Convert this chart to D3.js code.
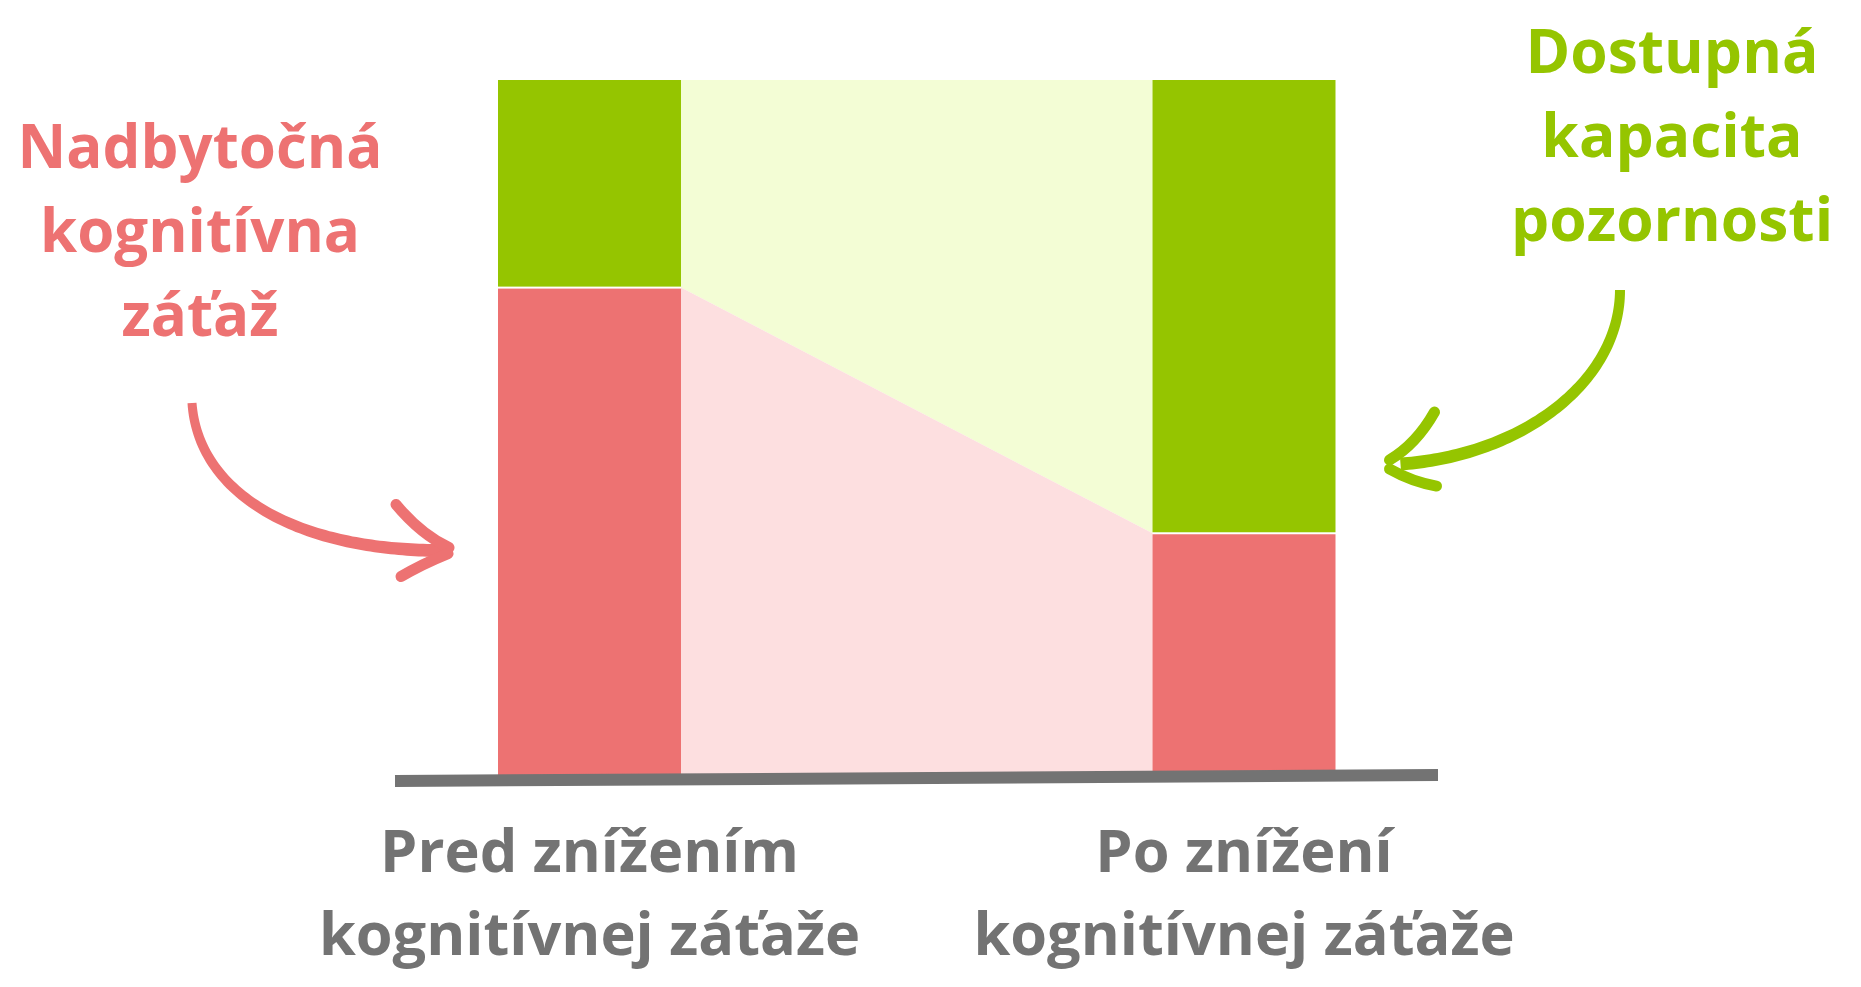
<!DOCTYPE html>
<html><head><meta charset="utf-8">
<script src="https://cdn.jsdelivr.net/npm/d3@7"></script>
<style>
body{margin:0;background:#fff}
svg{display:block}
text{font-family:"Open Sans",sans-serif;font-weight:700}
</style>
</head><body>
<svg id="c" width="1861" height="987"></svg>
<script>
// ---- data ----
const categories = ["before", "after"];
const categoryLabels = [["Pred znížením", "kognitívnej záťaže"], ["Po znížení", "kognitívnej záťaže"]];
const excessLoad = [70, 34.5];        // Nadbytočná kognitívna záťaž (%)
const availableCapacity = [30, 65.5]; // Dostupná kapacita pozornosti (%)
const leftLabel = ["Nadbytočná", "kognitívna", "záťaž"];
const rightLabel = ["Dostupná", "kapacita", "pozornosti"];

// ---- style ----
const RED = "#ED7272", GREEN = "#95C500", PINK = "#FDDFE0", LIME = "#F3FDD5", GREY = "#737373";

const svg = d3.select("#c");
const barW = 183;
const x = d3.scalePoint().domain(categories).range([589.5, 1244]);
const y = d3.scaleLinear().domain([0, 100]).range([772, 80]);

const xl = c => x(c) - barW / 2, xr = c => x(c) + barW / 2;

// connecting bands between the bars
const [c0, c1] = categories;
const band = d3.area().x(d => d.x).y0(d => d.y0).y1(d => d.y1);
svg.append("path")
  .attr("d", band([{x: xr(c0), y0: y(excessLoad[0]), y1: y(100)}, {x: xl(c1), y0: y(excessLoad[1]), y1: y(100)}]))
  .attr("fill", LIME);
svg.append("path")
  .attr("d", band([{x: xr(c0), y0: y(0) + 6, y1: y(excessLoad[0])}, {x: xl(c1), y0: y(0) + 6, y1: y(excessLoad[1])}]))
  .attr("fill", PINK);

// stacked bars
categories.forEach((c, i) => {
  svg.append("rect").attr("x", xl(c)).attr("width", barW)
    .attr("y", y(excessLoad[i] + availableCapacity[i])).attr("height", y(excessLoad[i]) - y(excessLoad[i] + availableCapacity[i]) - 1)
    .attr("fill", GREEN);
  svg.append("rect").attr("x", xl(c)).attr("width", barW)
    .attr("y", y(excessLoad[i]) + 1).attr("height", y(0) - y(excessLoad[i]) + 2)
    .attr("fill", RED);
});

// baseline (slightly slanted hand-drawn axis)
svg.append("path")
  .attr("d", d3.line()([[395, y(0) + 9], [1438, y(0) + 3]]))
  .attr("stroke", GREY).attr("stroke-width", 12).attr("fill", "none");

// category labels
categories.forEach((c, i) => {
  const t = svg.append("text").attr("x", x(c)).attr("text-anchor", "middle")
    .attr("fill", GREY).attr("font-size", 59.5);
  categoryLabels[i].forEach((line, j) => t.append("tspan").attr("x", x(c)).attr("y", 872 + j * 83).text(line));
});

// side labels
function sideLabel(lines, cx, y0, color, fs) {
  const t = svg.append("text").attr("text-anchor", "middle").attr("fill", color).attr("font-size", fs);
  lines.forEach((l, j) => t.append("tspan").attr("x", cx).attr("y", y0 + j * 84).text(l));
}
sideLabel(leftLabel, 200, 168, RED, 60);
sideLabel(rightLabel, 1672, 73, GREEN, 60.5);

// brush-stroke arrows
function brush(d, w0, w1, color) {
  const tmp = svg.append("path").attr("d", d).attr("fill", "none");
  const node = tmp.node(), L = node.getTotalLength();
  const N = 80, a = [], b = [];
  for (let i = 0; i <= N; i++) {
    const s = L * i / N;
    const p = node.getPointAtLength(s);
    const p1 = node.getPointAtLength(Math.max(0, s - 0.5)), p2 = node.getPointAtLength(Math.min(L, s + 0.5));
    let tx = p2.x - p1.x, ty = p2.y - p1.y; const n = Math.hypot(tx, ty) || 1; tx /= n; ty /= n;
    const w = (w0 + (w1 - w0) * i / N) / 2;
    a.push([p.x - ty * w, p.y + tx * w]); b.push([p.x + ty * w, p.y - tx * w]);
  }
  tmp.remove();
  svg.append("path").attr("d", d3.line()(a.concat(b.reverse())) + "Z").attr("fill", color);
}
function stroke(d, w, color) {
  svg.append("path").attr("d", d).attr("fill", "none").attr("stroke", color)
    .attr("stroke-width", w).attr("stroke-linecap", "round").attr("stroke-linejoin", "round");
}

// left arrow -> points at the red part of the first bar
{
  const tx = xl(c0) - 47, ty = y(32);
  const p = d3.path(); p.moveTo(192, 403); p.bezierCurveTo(198, 490, 290, ty, tx - 8, ty);
  brush(p.toString(), 9, 13, RED);
  const u = d3.path(); u.moveTo(tx - 55, ty - 46); u.quadraticCurveTo(tx - 30, ty - 16, tx - 2, ty - 3);
  stroke(u.toString(), 11, RED);
  const l = d3.path(); l.moveTo(tx - 3, ty + 3); l.quadraticCurveTo(tx - 30, ty + 14, tx - 50, ty + 26);
  stroke(l.toString(), 11, RED);
}
// right arrow -> points at the green part of the second bar
{
  const tx = xr(c1) + 53, ty = y(44.5);
  const p = d3.path(); p.moveTo(1620, 290); p.bezierCurveTo(1620, 380, 1525, ty - 9, tx + 12, ty);
  brush(p.toString(), 10, 13, GREEN);
  const u = d3.path(); u.moveTo(tx + 46, ty - 52); u.quadraticCurveTo(tx + 28, ty - 20, tx + 1, ty - 4);
  stroke(u.toString(), 11, GREEN);
  const l = d3.path(); l.moveTo(tx + 1, ty + 5); l.quadraticCurveTo(tx + 24, ty + 18, tx + 48, ty + 22);
  stroke(l.toString(), 11, GREEN);
}
</script>
</body></html>
